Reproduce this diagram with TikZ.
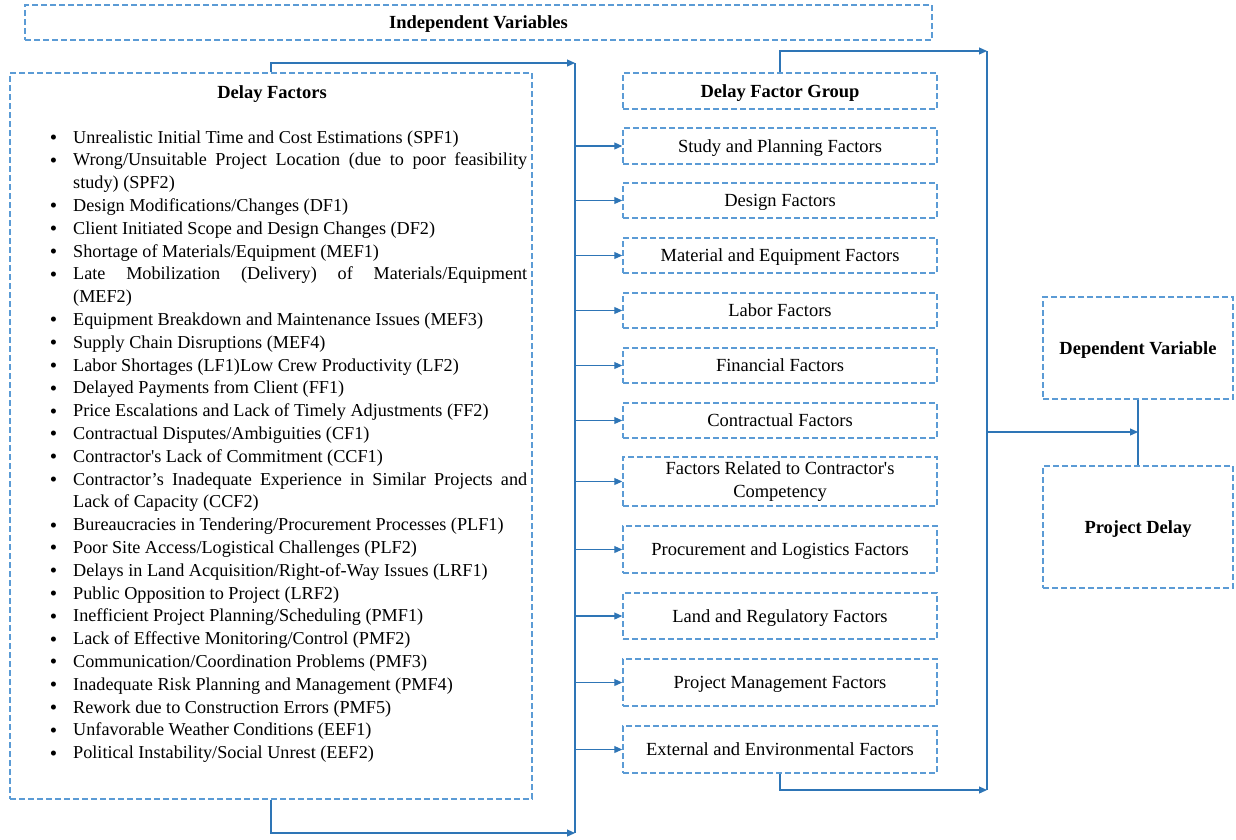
\documentclass[tikz,border=0pt]{standalone}
\usepackage{fontspec}
\setmainfont{Liberation Serif}[Ligatures=TeXOff]
\usepackage{enumitem}
\usetikzlibrary{arrows.meta,calc,positioning}
\definecolor{boxblue}{RGB}{91,155,213}
\definecolor{arrblue}{RGB}{46,117,182}
\begin{document}
\begin{tikzpicture}[x=1pt,y=-1pt,
every node/.style={font=\fontsize{18.5}{22.8}\selectfont},
dbox/.style={draw=boxblue,line width=1.5pt,dash pattern=on 6pt off 3pt,inner sep=0pt},
oneline/.style={text height=16.6pt,text depth=4pt},
grp/.style={dbox,minimum width=314pt,align=center},
arr/.style={draw=arrblue,line width=1.1pt,-{Triangle[length=8pt,width=7pt]}},
bus/.style={draw=arrblue,line width=1.1pt}]
\useasboundingbox (0,0) rectangle (1236,839);
\node[dbox,oneline,minimum width=907pt,minimum height=35pt] (IV) at (478.5,22.5) {\textbf{Independent Variables}};
\node[dbox,minimum width=522pt,minimum height=726pt] (DF) at (271,436) {};
\node[inner sep=0pt,oneline] (DFtitle) at (272,92) {\textbf{Delay Factors}};
\node[inner sep=0pt,anchor=north west,text width=482pt,align=justify,font=\fontsize{18.2}{22.8}\selectfont] (DFlist) at (45,120)
{\hyphenpenalty=10000
\begin{itemize}[leftmargin=28pt,labelsep=16pt,label=\raisebox{-1.5pt}{\fontsize{21}{21}\selectfont\textbullet},topsep=0pt,itemsep=0pt,parsep=0pt,partopsep=0pt]
\item Unrealistic Initial Time and Cost Estimations (SPF1)
\item Wrong/Unsuitable Project Location (due to poor feasibility study) (SPF2)
\item Design Modifications/Changes (DF1)
\item Client Initiated Scope and Design Changes (DF2)
\item Shortage of Materials/Equipment (MEF1)
\item Late Mobilization (Delivery) of Materials/Equipment\linebreak (MEF2)
\item Equipment Breakdown and Maintenance Issues (MEF3)
\item Supply Chain Disruptions (MEF4)
\item Labor Shortages (LF1)Low Crew Productivity (LF2)
\item Delayed Payments from Client (FF1)
\item Price Escalations and Lack of Timely Adjustments (FF2)
\item Contractual Disputes/Ambiguities (CF1)
\item Contractor's Lack of Commitment (CCF1)
\item Contractor’s Inadequate Experience in Similar Projects and Lack of Capacity (CCF2)
\item Bureaucracies in Tendering/Procurement Processes (PLF1)
\item Poor Site Access/Logistical Challenges (PLF2)
\item Delays in Land Acquisition/Right-of-Way Issues (LRF1)
\item Public Opposition to Project (LRF2)
\item Inefficient Project Planning/Scheduling (PMF1)
\item Lack of Effective Monitoring/Control (PMF2)
\item Communication/Coordination Problems (PMF3)
\item Inadequate Risk Planning and Management (PMF4)
\item Rework due to Construction Errors (PMF5)
\item Unfavorable Weather Conditions (EEF1)
\item Political Instability/Social Unrest (EEF2)
\end{itemize}};
\node[grp,oneline,minimum height=36pt] (DFG) at (780,91) {\textbf{Delay Factor Group}};
\node[grp,oneline,minimum height=36pt] (G1) at (780,146) {Study and Planning Factors};
\node[grp,oneline,minimum height=35pt] (G2) at (780,200.5) {Design Factors};
\node[grp,oneline,minimum height=35pt] (G3) at (780,255.5) {Material and Equipment Factors};
\node[grp,oneline,minimum height=35pt] (G4) at (780,310.5) {Labor Factors};
\node[grp,oneline,minimum height=35pt] (G5) at (780,365.5) {Financial Factors};
\node[grp,oneline,minimum height=35pt] (G6) at (780,420.5) {Contractual Factors};
\node[grp,minimum height=49pt] (G7) at (780,481.5) {Factors Related to Contractor's\\Competency};
\node[grp,oneline,minimum height=47pt] (G8) at (780,549.5) {Procurement and Logistics Factors};
\node[grp,oneline,minimum height=46pt] (G9) at (780,616) {Land and Regulatory Factors};
\node[grp,oneline,minimum height=47pt] (G10) at (780,682.5) {Project Management Factors};
\node[grp,oneline,minimum height=47pt] (G11) at (780,749.5) {External and Environmental Factors};
\node[dbox,oneline,minimum width=190pt,minimum height=102pt] (DV) at (1138,348) {\textbf{Dependent Variable}};
\node[dbox,oneline,minimum width=190pt,minimum height=122pt] (PD) at (1138,527) {\textbf{Project Delay}};
\coordinate (LT) at (575,63);
\coordinate (LB) at (575,833);
\coordinate (RT) at (987,51);
\coordinate (RB) at (987,790);
\coordinate (RM) at (987,432);
\draw[bus] (LT) -- (LB);
\draw[arr] (DF.north) |- (LT);
\draw[arr] (DF.south) |- (LB);
\foreach \g in {G1,G2,G3,G4,G5,G6,G7,G8,G9,G10,G11}
  \draw[arr] (LT |- \g.west) -- (\g.west);
\draw[bus] (RT) -- (RB);
\draw[arr] (DFG.north) |- (RT);
\draw[arr] (G11.south) |- (RB);
\draw[bus] (DV.south) -- (PD.north);
\draw[arr] (RM) -- (DV.south |- RM);
\end{tikzpicture}
\end{document}
